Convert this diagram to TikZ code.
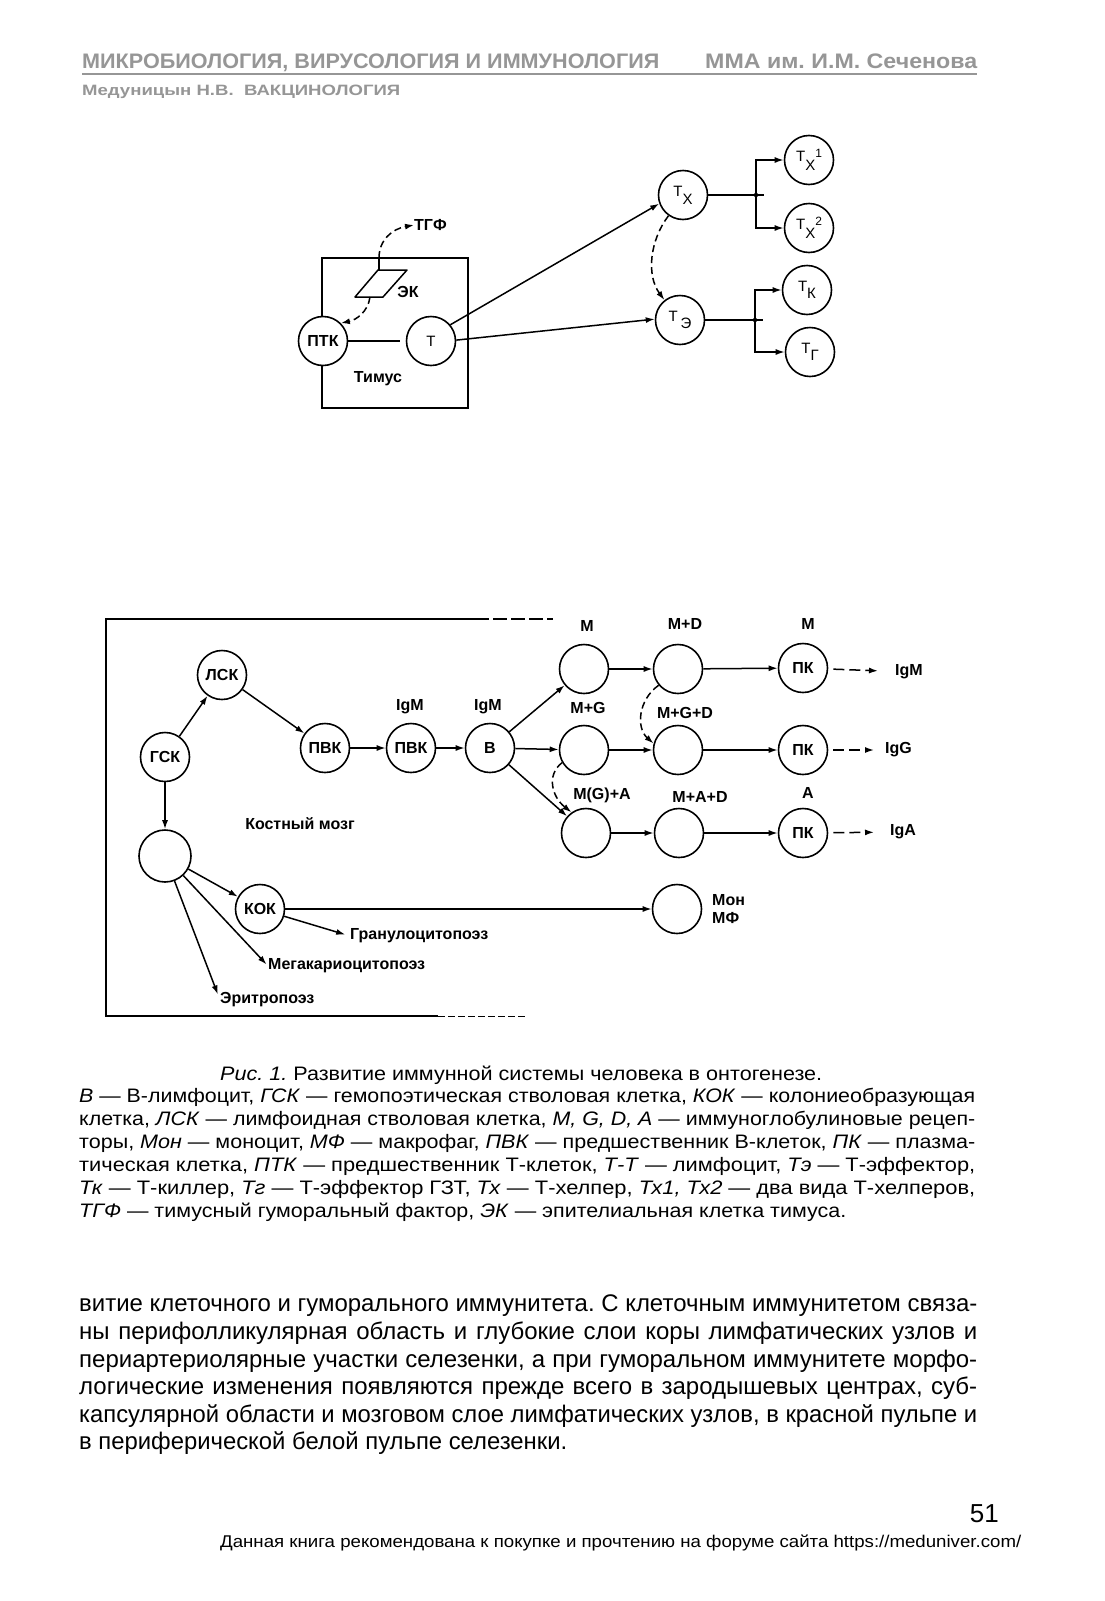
\documentclass[tikz,border=0pt]{standalone}
\usepackage{fontspec}
\setmainfont{Liberation Sans}
\usepackage{graphicx}
\usetikzlibrary{arrows.meta}
\definecolor{hdr}{RGB}{150,150,150}
\newcommand\fitw[2]{\resizebox{#1}{\height}{#2}}
\newcommand\fs[1]{\fontsize{#1}{#1}\selectfont}
\newsavebox\jbox
\newcommand\jline[2]{\sbox\jbox{#2}\ifdim\wd\jbox>#1\relax\resizebox{#1}{\height}{\usebox\jbox}\else\makebox[#1][s]{#2}\fi}
\frenchspacing
\begin{document}
\begin{tikzpicture}[x=1pt,y=-1pt,
  cell/.style={circle,draw,fill=white,line width=1.6pt,minimum size=49pt,inner sep=0pt,font=\fs{16}\bfseries},
  tcell/.style={cell,font=\fs{15}},
  ln/.style={line width=1.5pt},
  arr/.style={ln,-{Latex[length=9pt,width=6pt]}},
  darr/.style={arr,dash pattern=on 7pt off 4pt},
  lbl/.style={font=\fs{16}\bfseries,inner sep=0pt},
  txt/.style={inner sep=0pt,anchor=base west},
]
\useasboundingbox (0,0) rectangle (1104,1601);
\fill[white] (0,0) rectangle (1104,1601);

% ---------- header ----------
\node[txt,text=hdr,font=\fs{21}\bfseries] (h1) at (82,68) {\fitw{577pt}{МИКРОБИОЛОГИЯ, ВИРУСОЛОГИЯ И ИММУНОЛОГИЯ}};
\node[txt,text=hdr,font=\fs{21}\bfseries] (h2) at (705,68) {\fitw{272pt}{ММА им. И.М. Сеченова}};
\draw[hdr,line width=1.5pt] (82,74) -- (977,74);
\node[txt,text=hdr,font=\fs{15}\bfseries] (h3) at (82,95) {\fitw{318pt}{Медуницын Н.В.\ \ ВАКЦИНОЛОГИЯ}};

% ---------- thymus diagram ----------
\coordinate (boxtop) at (379,258);
\draw[ln] (322,258) rectangle (468,408);
\coordinate (ektl) at (378,270);
\coordinate (ektr) at (407,270);
\coordinate (ekbr) at (383,297);
\coordinate (ekbl) at (355,297);
\coordinate (ektop) at (379,270);
\coordinate (ekbot) at (370,297);
\draw[ln,line join=round] (ektl) -- (ektr) -- (ekbr) -- (ekbl) -- cycle;
\draw[ln] (boxtop) -- (ektop);

\node[cell] (ptk) at (323,341) {ПТК};
\node[tcell] (t) at (431,341) {Т};
\node[tcell] (tx) at (683,195) {\raisebox{4pt}{Т}\raisebox{-4pt}{Х}};
\node[tcell] (te) at (680,320) {\raisebox{3pt}{Т}\hspace{3pt}\raisebox{-4pt}{Э}};
\node[tcell] (tx1) at (809,160) {\raisebox{4pt}{Т}\raisebox{-5pt}{Х}\raisebox{8pt}{\fs{12}1}};
\node[tcell] (tx2) at (809,228) {\raisebox{4pt}{Т}\raisebox{-5pt}{Х}\raisebox{8pt}{\fs{12}2}};
\node[tcell] (tk) at (807,290) {\raisebox{4pt}{Т}\raisebox{-3pt}{К}};
\node[tcell] (tg) at (810,352) {\raisebox{4pt}{Т}\raisebox{-3pt}{Г}};

\node[lbl,anchor=west] (tgf) at (414,225) {ТГФ};
\node[lbl] (ek) at (408,292) {ЭК};
\node[lbl] (tim) at (378,379) {Тимус};

\draw[darr] (boxtop) .. controls (379,240) and (392,229) .. (tgf.west);
\draw[darr] (ekbot) .. controls (368,312) and (356,320) .. (ptk.45);
\draw[ln,shorten >=6pt] (ptk) -- (t);
\draw[arr] (t.40) -- (tx.200);
\draw[arr] (t.2) -- (te.178);
\draw[darr] (tx.235) .. controls (650,240) and (646,275) .. (te.128);

\coordinate (jx) at (756,195);
\coordinate (jxr) at (764,195);
\coordinate (je) at (755,320);
\coordinate (jer) at (763,320);
\draw[ln] (tx) -- (jxr);
\draw[arr] (jx) |- (tx1);
\draw[arr] (jx) |- (tx2);
\fill (jx) circle (2.2pt);
\draw[ln] (te) -- (jer);
\draw[arr] (je) |- (tk);
\draw[arr] (je) |- (tg);
\fill (je) circle (2.2pt);

% ---------- bone marrow diagram ----------
\draw[ln] (475,619) -- (106,619) -- (106,1016) -- (438,1016);
\draw[ln,dash pattern=on 14pt off 4pt] (475,619) -- (553,619);
\draw[line width=1pt,dash pattern=on 7pt off 3pt] (438,1016) -- (528,1016);

\node[cell] (lsk) at (222,675) {ЛСК};
\node[cell] (gsk) at (165,757) {ГСК};
\node[cell] (pvk1) at (325,748) {ПВК};
\node[cell] (pvk2) at (411,748) {ПВК};
\node[cell] (bb) at (490,748) {В};
\node[cell] (r1a) at (584,669) {};
\node[cell] (r1b) at (678,669) {};
\node[cell] (pk1) at (803,668) {ПК};
\node[cell] (r2a) at (584,750) {};
\node[cell] (r2b) at (678,750) {};
\node[cell] (pk2) at (803,750) {ПК};
\node[cell] (r3a) at (586,833) {};
\node[cell] (r3b) at (679,833) {};
\node[cell] (pk3) at (803,833) {ПК};
\node[cell,minimum size=52pt] (big) at (165,856) {};
\node[cell] (kok) at (260,909) {КОК};
\node[cell] (mon) at (677,909) {};

\node[lbl] (igm1) at (410,707) {IgM};
\node[lbl] (igm2) at (488,707) {IgM};
\node[lbl] (lm) at (587,626) {M};
\node[lbl] (lmd) at (685,624) {M+D};
\node[lbl] (lm2) at (808,624) {M};
\node[lbl] (lmg) at (588,708) {M+G};
\node[lbl] (lmgd) at (685,713) {M+G+D};
\node[lbl] (lmga) at (602,795) {M(G)+A};
\node[lbl] (lmad) at (700,797) {M+A+D};
\node[lbl] (la) at (808,793) {A};
\node[lbl,anchor=west] (igm) at (895,672) {IgM};
\node[lbl,anchor=west] (igg) at (885,750) {IgG};
\node[lbl,anchor=west] (iga) at (890,832) {IgA};
\node[lbl,anchor=west,align=left] (monl) at (712,909) {Мон\\[2pt]МФ};
\node[lbl] (kost) at (300,824) {Костный мозг};
\node[lbl,anchor=west] (gran) at (350,936) {Гранулоцитопоэз};
\node[lbl,anchor=west] (mega) at (268,966) {Мегакариоцитопоэз};
\node[lbl,anchor=west] (eri) at (220,1000) {Эритропоэз};

\draw[arr] (gsk) -- (lsk);
\draw[arr] (lsk) -- (pvk1);
\draw[arr] (pvk1) -- (pvk2);
\draw[arr] (pvk2) -- (bb);
\draw[arr] (bb) -- (r1a);
\draw[arr] (bb) -- (r2a);
\draw[arr] (bb) -- (r3a);
\draw[arr] (r1a) -- (r1b);
\draw[arr] (r1b) -- (pk1);
\draw[arr] (r2a) -- (r2b);
\draw[arr] (r2b) -- (pk2);
\draw[arr] (r3a) -- (r3b);
\draw[arr] (r3b) -- (pk3);
\draw[darr] (r1b.220) .. controls (638,700) and (636,728) .. (r2b.165);
\draw[darr] (r2a.210) .. controls (546,775) and (552,797) .. (r3a.125);
\draw[arr,dash pattern=on 11pt off 5pt,shorten <=5pt,shorten >=17pt] (pk1) -- (igm);
\draw[arr,dash pattern=on 11pt off 5pt,shorten <=5pt,shorten >=11pt] (pk2) -- (igg);
\draw[arr,dash pattern=on 11pt off 5pt,shorten <=5pt,shorten >=16pt] (pk3) -- (iga);
\draw[arr] (gsk) -- (big);
\draw[arr] (big) -- (kok);
\draw[arr] (kok) -- (mon);
\draw[arr,shorten >=5pt] (kok) -- (gran.west);
\draw[arr,shorten >=2pt] (big) -- (mega.west);
\draw[arr,shorten >=6pt] (big) -- (eri.west);

% ---------- caption ----------
\node[txt,font=\fs{19.5}] (c1) at (220,1080) {\fitw{602pt}{\textit{Рис. 1.} Развитие иммунной системы человека в онтогенезе.}};
\node[txt,font=\fs{19.5}] (c2) at (79,1102) {\fitw{896pt}{\textit{В} — В-лимфоцит, \textit{ГСК} — гемопоэтическая стволовая клетка, \textit{КОК} — колониеобразующая}};
\node[txt,font=\fs{19.5}] (c3) at (79,1125) {\fitw{896pt}{клетка, \textit{ЛСК} — лимфоидная стволовая клетка, \textit{M, G, D, A} — иммуноглобулиновые рецеп-}};
\node[txt,font=\fs{19.5}] (c4) at (79,1148) {\fitw{896pt}{торы, \textit{Мон} — моноцит, \textit{МФ} — макрофаг, \textit{ПВК} — предшественник В-клеток, \textit{ПК} — плазма-}};
\node[txt,font=\fs{19.5}] (c5) at (79,1171) {\fitw{896pt}{тическая клетка, \textit{ПТК} — предшественник Т-клеток, \textit{Т-Т} — лимфоцит, \textit{Тэ} — Т-эффектор,}};
\node[txt,font=\fs{19.5}] (c6) at (79,1194) {\fitw{896pt}{\textit{Тк} — Т-киллер, \textit{Тг} — Т-эффектор ГЗТ, \textit{Тх} — Т-хелпер, \textit{Тх1, Тх2} — два вида Т-хелперов,}};
\node[txt,font=\fs{19.5}] (c7) at (79,1217) {\fitw{767pt}{\textit{ТГФ} — тимусный гуморальный фактор, \textit{ЭК} — эпителиальная клетка тимуса.}};

% ---------- body ----------
\node[txt,font=\fs{24}] (b1) at (79,1311) {\jline{898pt}{витие клеточного и гуморального иммунитета. С клеточным иммунитетом связа-}};
\node[txt,font=\fs{24}] (b2) at (79,1339) {\jline{898pt}{ны перифолликулярная область и глубокие слои коры лимфатических узлов и}};
\node[txt,font=\fs{24}] (b3) at (79,1367) {\jline{898pt}{периартериолярные участки селезенки, а при гуморальном иммунитете морфо-}};
\node[txt,font=\fs{24}] (b4) at (79,1394) {\jline{898pt}{логические изменения появляются прежде всего в зародышевых центрах, суб-}};
\node[txt,font=\fs{24}] (b5) at (79,1422) {\jline{898pt}{капсулярной области и мозговом слое лимфатических узлов, в красной пульпе и}};
\node[txt,font=\fs{24}] (b6) at (79,1449) {\fitw{488pt}{в периферической белой пульпе селезенки.}};

% ---------- footer ----------
\node[inner sep=0pt,anchor=base east,font=\fs{26}] (pg) at (999,1522) {51};
\node[txt,font=\fs{17}] (ft) at (220,1547) {\fitw{801pt}{Данная книга рекомендована к покупке и прочтению на форуме сайта https://meduniver.com/}};
\end{tikzpicture}
\end{document}
